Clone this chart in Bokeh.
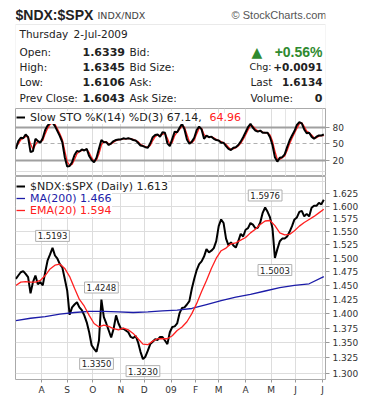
from bokeh.embed import file_html
from bokeh.layouts import column
from bokeh.models import (BoxAnnotation, FixedTicker, Grid, Label, Legend,
                          LegendItem, PrintfTickFormatter, Range1d)
from bokeh.plotting import figure
from bokeh.resources import INLINE

FONT = "DejaVu Sans"

# ---------------- data (trading-day index, day 0 = 1 Aug 2008) ----------------
close_day = list(range(-21, 232, 2))
close = [
    1.462, 1.468, 1.474, 1.476, 1.471, 1.465, 1.436, 1.456,
    1.468, 1.452, 1.456, 1.450, 1.474, 1.496, 1.507, 1.5193,
    1.505, 1.499, 1.489, 1.483, 1.462, 1.441, 1.398, 1.411,
    1.416, 1.420, 1.411, 1.406, 1.397, 1.385, 1.368, 1.346,
    1.340, 1.3350, 1.354, 1.4248, 1.394, 1.383, 1.371, 1.359,
    1.374, 1.397, 1.383, 1.374, 1.374, 1.371, 1.368, 1.360,
    1.358, 1.362, 1.351, 1.335, 1.3230, 1.327, 1.337, 1.348,
    1.352, 1.356, 1.355, 1.360, 1.360, 1.354, 1.348, 1.368,
    1.377, 1.378, 1.383, 1.401, 1.410, 1.411, 1.416, 1.422,
    1.444, 1.462, 1.478, 1.489, 1.494, 1.503, 1.517, 1.511,
    1.514, 1.519, 1.532, 1.561, 1.574, 1.567, 1.537, 1.524,
    1.530, 1.524, 1.520, 1.532, 1.546, 1.541, 1.554, 1.557,
    1.567, 1.564, 1.557, 1.558, 1.568, 1.587, 1.5976, 1.589,
    1.578, 1.557, 1.5003, 1.517, 1.532, 1.537, 1.537, 1.541,
    1.550, 1.561, 1.574, 1.578, 1.589, 1.591, 1.580, 1.585,
    1.580, 1.597, 1.601, 1.601, 1.607, 1.604, 1.613,
]

ema_day = list(range(-21, 232, 4))
ema20 = [
    1.450, 1.456, 1.457, 1.456, 1.456, 1.459, 1.468, 1.480,
    1.487, 1.489, 1.481, 1.466, 1.445, 1.425, 1.413, 1.397,
    1.383, 1.377, 1.380, 1.378, 1.374, 1.372, 1.375, 1.372,
    1.366, 1.357, 1.348, 1.347, 1.353, 1.357, 1.357, 1.357,
    1.362, 1.371, 1.377, 1.386, 1.400, 1.418, 1.439, 1.459,
    1.481, 1.500, 1.514, 1.519, 1.527, 1.529, 1.534, 1.539,
    1.548, 1.555, 1.564, 1.571, 1.572, 1.562, 1.548, 1.544,
    1.545, 1.552, 1.561, 1.568, 1.574, 1.580, 1.587, 1.594,
]

ma_day = list(range(-21, 232, 12))
ma200 = [
    1.388, 1.392, 1.395, 1.399, 1.402, 1.404, 1.404, 1.403,
    1.402, 1.403, 1.405, 1.406, 1.409, 1.416, 1.423, 1.429,
    1.434, 1.440, 1.446, 1.450, 1.453, 1.466,
]

sto_k = [
    41, 55, 61, 60, 67, 62, 35, 37,
    59, 55, 52, 60, 75, 83, 88, 88,
    82, 73, 64, 53, 26, 9, 10, 17,
    30, 37, 36, 40, 38, 41, 28, 21,
    17, 25, 41, 57, 53, 53, 48, 51,
    55, 57, 58, 58, 60, 59, 60, 59,
    57, 56, 52, 47, 46, 44, 43, 51,
    62, 66, 67, 63, 71, 70, 51, 46,
    59, 72, 71, 79, 86, 76, 58, 50,
    54, 61, 75, 81, 76, 59, 65, 62,
    63, 59, 57, 56, 52, 52, 46, 41,
    39, 43, 44, 48, 54, 62, 71, 80,
    86, 79, 74, 72, 74, 70, 70, 70,
    62, 48, 26, 18, 25, 26, 31, 44,
    56, 65, 73, 84, 89, 87, 76, 69,
    70, 63, 59, 63, 65, 65, 67.14,
]
sto_d = [
    45, 50, 57, 60, 63, 63, 50, 40,
    48, 55, 54, 56, 68, 78, 85, 88,
    85, 77, 68, 58, 38, 18, 11, 13,
    22, 32, 36, 38, 39, 40, 34, 25,
    19, 21, 32, 48, 54, 54, 50, 50,
    53, 56, 57, 58, 59, 59, 60, 59,
    58, 56, 54, 49, 47, 45, 44, 47,
    56, 63, 66, 65, 67, 69, 60, 49,
    53, 65, 71, 76, 82, 80, 67, 54,
    52, 57, 68, 78, 78, 67, 63, 63,
    63, 61, 58, 56, 54, 52, 49, 44,
    40, 41, 43, 46, 51, 58, 66, 75,
    83, 82, 77, 73, 73, 71, 70, 70,
    66, 55, 37, 22, 22, 25, 28, 38,
    50, 60, 69, 78, 86, 88, 81, 73,
    70, 66, 61, 61, 64, 65, 64.96,
]

month_days = [0, 21, 42, 65, 84, 106, 126, 145, 167, 188, 208, 230]
month_labels = ["A", "S", "O", "N", "D", "09", "F", "M", "A", "M", "J", "J"]
price_ticks = [1.300, 1.325, 1.350, 1.375, 1.400, 1.425, 1.450, 1.475,
               1.500, 1.525, 1.550, 1.575, 1.600, 1.625]
price_grid_extra = [1.650]
sto_ticks = [20, 50, 80]
sto_levels = [20, 80]
sto_mid = [50]
sto_base = [0]
marked_values = [1.5193, 1.4248, 1.3350, 1.3230, 1.5976, 1.5003]
marked_above = [True, True, False, False, True, False]

W = 380
LB, RB = 15, 55          # frame borders shared by all stacked panels
xr = Range1d(-21.3, 232.4)

# ---------------- header (its frame spans screen x 15..325, y 0..108) ----------------
hdr = figure(width=W, height=108, x_range=Range1d(LB, W - RB), y_range=Range1d(108, 0),
             toolbar_location=None, output_backend="svg",
             min_border_left=LB, min_border_right=RB, min_border_top=0,
             min_border_bottom=0,
             x_axis_location=None, y_axis_location=None, outline_line_color=None)
hdr.grid.visible = False
hdr.add_layout(BoxAnnotation(left=15, right=325, top=24, bottom=108,
                             fill_alpha=0, line_color="#b8b8b8", line_width=1))


def txt(fig, x, y, s, size, color="#222222", bold=False, align="left", font=FONT):
    fig.add_layout(Label(x=x, y=y, text=s, text_font=font,
                         text_font_size=f"{size}px", text_color=color,
                         text_font_style="bold" if bold else "normal",
                         text_align=align, text_baseline="middle"))


txt(hdr, 15, 14, "$NDX:$SPX", 14, "#222222", True, font="Liberation Sans")
txt(hdr, 97, 15, "INDX/NDX", 9.5, "#444444")
txt(hdr, 326, 14, "\u00a9 StockCharts.com", 11, "#555555", align="right",
    font="Liberation Sans")
txt(hdr, 19, 33, "Thursday", 10.5)
txt(hdr, 73, 33, "2-Jul-2009", 10.5)
rows_y = [51, 66, 81, 97]
for y, lab, val, mid in zip(rows_y,
                            ["Open:", "High:", "Low:", "Prev Close:"],
                            ["1.6339", "1.6345", "1.6106", "1.6043"],
                            ["Bid:", "Bid Size:", "Ask:", "Ask Size:"]):
    txt(hdr, 19, y, lab, 10.5)
    txt(hdr, 82, y, val, 11, bold=True)
    txt(hdr, 129, y, mid, 10.5)
GREEN = "#2f8a2f"
txt(hdr, 251, 51, "\u25b2", 14, GREEN)
txt(hdr, 322, 51, "+0.56%", 14, GREEN, bold=True, align="right",
    font="Liberation Sans")
txt(hdr, 249, 66, "Chg:", 9.5)
txt(hdr, 322, 66, "+0.0091", 10.5, bold=True, align="right")
txt(hdr, 250, 81, "Last", 10.5)
txt(hdr, 322, 81, "1.6134", 10.5, bold=True, align="right")
txt(hdr, 250, 97, "Volume:", 10.5)
txt(hdr, 322, 97, "0", 11, bold=True, align="right")

GRID = "#dddddd"

# ---------------- stochastic panel ----------------
sto = figure(width=W, height=68, x_range=xr, y_range=Range1d(-8.8, 113.7),
             toolbar_location=None, output_backend="svg",
             x_axis_location=None, y_axis_location="right",
             min_border_left=LB, min_border_right=RB, min_border_top=0,
             min_border_bottom=0, outline_line_color="#aaaaaa")
sto.ygrid.visible = False
sto.yaxis.ticker = FixedTicker(ticks=sto_ticks)
sto.yaxis.axis_line_color = None
sto.yaxis.major_tick_line_color = "#999999"
sto.yaxis.major_tick_out = 4
sto.yaxis.major_tick_in = 0
sto.yaxis.minor_tick_line_color = None
sto.yaxis.major_label_standoff = 3
sto.yaxis.major_label_text_font = FONT
sto.yaxis.major_label_text_font_size = "9px"
sto.yaxis.major_label_text_color = "#333333"
sto.add_layout(Grid(dimension=0, ticker=FixedTicker(ticks=month_days),
                    grid_line_color=GRID))
sto.add_layout(Grid(dimension=1, ticker=FixedTicker(ticks=sto_base),
                    grid_line_color=GRID))
sto.add_layout(Grid(dimension=1, ticker=FixedTicker(ticks=sto_levels),
                    grid_line_color="#a0a0a0", grid_line_width=2))
sto.add_layout(Grid(dimension=1, ticker=FixedTicker(ticks=sto_mid),
                    grid_line_color="#b0b0b0", grid_line_dash="4 3"))
sto.line(close_day, sto_d, line_color="#ff2020", line_width=1.3)
rk = sto.line(close_day, sto_k, line_color="black", line_width=2)

LEG_FS = 11


def legend(fig, renderer, text, color, vx, vy):
    fig.add_layout(Legend(items=[LegendItem(label=text, renderers=[renderer])],
                          location=(vx, vy), padding=0, margin=0, spacing=0,
                          glyph_width=9, glyph_height=10, label_height=10,
                          label_standoff=5, label_text_font=FONT,
                          label_text_font_size=f"{LEG_FS}px", label_text_color=color,
                          border_line_color=None, background_fill_color="white",
                          background_fill_alpha=1.0))


legend(sto, rk, "Slow STO %K(14) %D(3) 67.14,", "#222222", 1, 52.5)
sto.add_layout(Label(x=194, y=59.3, x_units="screen", y_units="screen",
                     text="64.96", text_font=FONT, text_font_size=f"{LEG_FS}px",
                     text_color="#ff2020", text_baseline="middle",
                     background_fill_color="white"))

# ---------------- price panel ----------------
main = figure(width=W, height=227, x_range=xr, y_range=Range1d(1.2899, 1.6604),
              y_axis_type="log", y_axis_location="right",
              toolbar_location=None, output_backend="svg",
              min_border_left=LB, min_border_right=RB, min_border_top=0,
              min_border_bottom=24, outline_line_color="#aaaaaa")
main.xgrid.ticker = FixedTicker(ticks=month_days)
main.ygrid.ticker = FixedTicker(ticks=price_ticks + price_grid_extra)
main.grid.grid_line_color = GRID
main.xaxis.ticker = FixedTicker(ticks=month_days)
main.xaxis.major_label_overrides = {d: s for d, s in zip(month_days, month_labels)}
main.yaxis.ticker = FixedTicker(ticks=price_ticks)
main.yaxis.formatter = PrintfTickFormatter(format="%.3f")
for ax in (main.xaxis, main.yaxis):
    ax.axis_line_color = None
    ax.major_tick_line_color = "#999999"
    ax.major_tick_in = 0
    ax.minor_tick_line_color = None
    ax.major_label_text_font = FONT
    ax.major_label_text_font_size = "9px"
    ax.major_label_text_color = "#333333"
main.yaxis.major_tick_out = 4
main.yaxis.major_label_standoff = 3
main.xaxis.major_tick_out = 3
main.xaxis.major_label_standoff = 2

rp = main.line(close_day, close, line_color="black", line_width=2)
rm = main.line(ma_day, ma200, line_color="#1c1ca8", line_width=1.3)
re = main.line(ema_day, ema20, line_color="#ff2020", line_width=1.3)

FH = 203
legend(main, re, "EMA(20) 1.594", "#ff2020", 1, FH - 34 - 6.5)
legend(main, rm, "MA(200) 1.466", "#1c1ca8", 1, FH - 22.3 - 6.5)
legend(main, rp, "$NDX:$SPX (Daily) 1.613", "#222222", 1, FH - 10 - 6.5)

for v, above in zip(marked_values, marked_above):
    i = close.index(v)
    main.add_layout(Label(x=close_day[i], y=v, text=f"{v:.4f}",
                          y_offset=12 if above else -12,
                          text_font=FONT, text_font_size="8.5px",
                          text_color="#222222", text_align="center",
                          text_baseline="middle", background_fill_color="white",
                          border_line_color="#b0b0b0", padding=2))

layout = column(hdr, sto, main, spacing=0)
open("out.html", "w").write(file_html(layout, INLINE))
